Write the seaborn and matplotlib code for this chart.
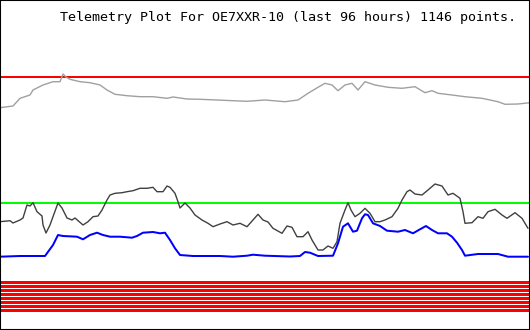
import matplotlib
matplotlib.use("Agg")
import matplotlib.pyplot as plt
import seaborn as sns
import pandas as pd

# ---- data (time steps across the 96 h window, telemetry values) ----
gray_t = [0, 13, 20, 30, 33, 43, 53, 60, 63, 66, 70, 80, 90, 100, 107, 115, 127, 140, 153, 167,
          173, 187, 200, 217, 233, 247, 265, 285, 298, 308, 318, 325, 332, 338, 345, 352, 358, 365,
          375, 388, 402, 415, 425, 432, 438, 452, 465, 482, 498, 505, 518, 530]
gray_v = [222.3, 224, 231.7, 235, 240, 245, 248.3, 248.3, 256, 253, 250.7, 248.3, 247.3, 245, 240,
          235.7, 234.3, 233.3, 233.3, 231.7, 233, 231, 230.7, 230, 229.3, 228.7, 230, 228.3, 230,
          236.7, 242.7, 246.7, 245, 239.3, 245, 246.7, 240, 248.3, 245, 242.7, 241.7, 243.3, 237.3,
          239.3, 236.7, 235, 233.3, 231.7, 228.3, 225.7, 226, 227.3]

black_t = [0, 10, 13, 20, 23, 27, 30, 33, 37, 42, 43, 46, 50, 53, 58, 62, 67, 72, 75, 83, 88, 93,
           98, 102, 107, 110, 115, 122, 127, 133, 140, 147, 153, 157, 163, 167, 170, 175, 178, 180,
           185, 190, 195, 202, 208, 213, 220, 227, 233, 240, 247, 253, 258, 263, 268, 273, 282, 287,
           292, 297, 303, 308, 312, 318, 323, 328, 333, 337, 340, 345, 348, 351, 355, 360, 365, 370,
           375, 380, 385, 392, 398, 402, 407, 410, 415, 422, 428, 435, 442, 448, 453, 460, 463, 465,
           472, 478, 483, 488, 495, 502, 507, 515, 522, 528]
black_v = [108.3, 109.3, 107, 110, 112, 125, 124, 127.3, 118.3, 114, 105, 97, 105, 113.3, 127, 122,
           112, 110, 112, 105, 108.3, 113.3, 114, 120, 130, 135, 136.7, 137.3, 138.3, 139.3, 141.7,
           141.7, 142.7, 138.3, 138.3, 144, 142.7, 136.7, 128.3, 122, 127, 122, 115, 110, 106.7,
           103.3, 106, 108.3, 105, 106.7, 103.3, 110, 115.7, 110, 108, 101.7, 96.7, 104, 102.7, 93.3,
           93.3, 98.3, 90, 80, 80, 84, 81.7, 88.3, 106.7, 120, 127.3, 120, 113.3, 116.7, 121.7, 116.7,
           108.3, 108.3, 110, 113.3, 121.7, 130, 138.3, 140, 136, 135, 140, 146, 144, 135, 136.7,
           131.7, 118.3, 106.7, 107.3, 113.3, 111.7, 118.3, 120.7, 115, 111.7, 117.3, 111.7, 101.7]

blue_t = [0, 20, 45, 53, 58, 63, 77, 83, 90, 97, 103, 110, 120, 132, 137, 143, 153, 160, 165, 170,
          175, 180, 193, 220, 233, 247, 253, 265, 290, 300, 305, 310, 318, 333, 338, 343, 348, 353,
          357, 362, 365, 368, 373, 380, 387, 398, 405, 413, 420, 426, 432, 438, 447, 452, 457, 462,
          465, 478, 498, 508, 528]
blue_v = [73.3, 74, 74, 85, 95, 94, 93.3, 90.7, 95, 97.3, 95, 93.3, 93.3, 92.3, 94, 97.3, 98, 96.7,
          97.3, 90, 81.7, 75, 74, 74, 73.3, 74.3, 75.3, 74.3, 73.5, 74, 78, 77.3, 74, 74.3, 86.7,
          103.3, 106.7, 98.3, 99.3, 111.7, 115.7, 115, 106.7, 104, 99.3, 98.3, 100, 96.7, 100.7, 104,
          100, 96.7, 96.7, 93.3, 87.3, 80, 74.3, 76, 76, 73.3, 73.3]

red_limit = 253
green_limit = 127.5
flag_levels = [48.5, 44.5, 40.5, 36.5, 32.5, 28.5, 24.5, 20.5]

title = "Telemetry Plot For OE7XXR-10 (last 96 hours) 1146 points."

# ---- plot ----
sns.set_style("white")
plt.rcParams["font.family"] = ["DejaVu Sans Mono", "DejaVu Sans"]

fig = plt.figure(figsize=(5.3, 3.3), dpi=100)
ax = fig.add_axes([0, 0, 1, 1])

t_max = 530
flags = pd.DataFrame({
    "t": [0, t_max] * len(flag_levels),
    "v": [lv for lv in flag_levels for _ in range(2)],
    "ch": [i for i in range(len(flag_levels)) for _ in range(2)],
})
sns.lineplot(data=flags, x="t", y="v", units="ch", estimator=None, color="#ff0000",
             lw=2.16, ax=ax, solid_capstyle="butt", antialiased=False)

ax.axhline(red_limit, color="#ff0000", lw=1.44, antialiased=False)
ax.axhline(green_limit, color="#00ff00", lw=1.44, antialiased=False)

sns.lineplot(x=gray_t, y=gray_v, color="#a0a0a0", lw=1.0, ax=ax, estimator=None)
sns.lineplot(x=black_t, y=black_v, color="#404040", lw=1.0, ax=ax, estimator=None)
sns.lineplot(x=blue_t, y=blue_v, color="#0000ff", lw=1.44, ax=ax, estimator=None)

ax.set_xlim(0, t_max)
ax.set_ylim(0, 330)
ax.set_xticks([])
ax.set_yticks([])
ax.set_xlabel("")
ax.set_ylabel("")
for s in ax.spines.values():
    s.set_visible(True)
    s.set_color("black")
    s.set_linewidth(1.5)

ax.text(0.543, 0.947, title, transform=ax.transAxes, ha="center", va="center",
        fontsize=9.6, color="black", family=["DejaVu Sans Mono", "DejaVu Sans"])

fig.savefig("out.png", dpi=100, facecolor="white")
